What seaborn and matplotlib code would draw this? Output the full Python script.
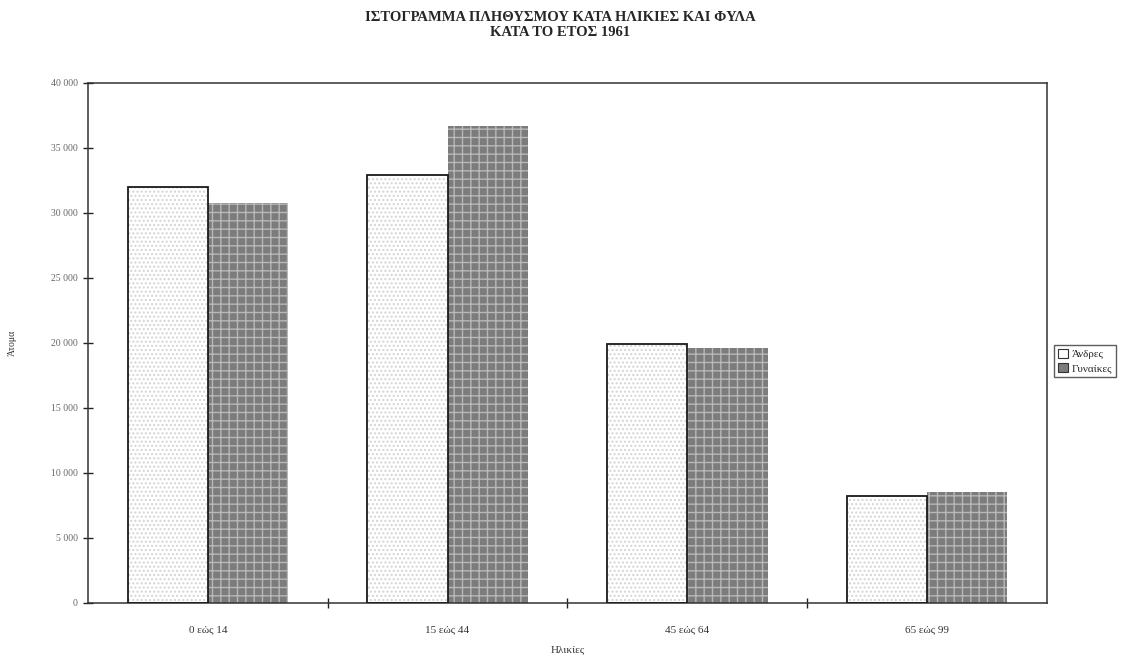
import matplotlib
matplotlib.use("Agg")
import matplotlib.pyplot as plt
import matplotlib.ticker as mticker
from matplotlib.patches import Rectangle
import pandas as pd
import seaborn as sns

# data
age_groups = ["0 εώς 14", "15 εώς 44", "45 εώς 64", "65 εώς 99"]
men = [32000, 32900, 19900, 8200]
women = [30800, 36700, 19600, 8500]
sexes = ["Άνδρες", "Γυναίκες"]

df = pd.DataFrame({
    "age": age_groups * 2,
    "sex": [sexes[0]] * len(age_groups) + [sexes[1]] * len(age_groups),
    "people": men + women,
})

sns.set_theme(style="white")
plt.rcParams["font.family"] = ["Liberation Serif", "DejaVu Serif"]
plt.rcParams["hatch.linewidth"] = 1.0

fig = plt.figure(figsize=(11.32, 6.64), dpi=100)
ax = fig.add_axes([0.0777, 0.092, 0.847, 0.783])

sns.barplot(
    data=df, x="age", y="people", hue="sex", order=age_groups,
    hue_order=sexes, palette=["white", "#7c7c7c"], width=0.67,
    gap=0, errorbar=None, legend=True, ax=ax,
)

n = len(age_groups)
for i, p in enumerate(ax.patches[: 2 * n]):
    if i < n:
        p.set_hatch("....")
        p.set_edgecolor("#d4d4d4")
        p.set_linewidth(0)
        ax.add_patch(Rectangle((p.get_x(), 0), p.get_width(), p.get_height(),
                               fill=False, edgecolor="#1a1a1a", linewidth=1.3, zorder=3))
    else:
        p.set_hatch("++")
        p.set_edgecolor("#b8b8b8")
        p.set_linewidth(0)

ax.set_ylim(0, 40000)
ax.set_xlim(-0.5, n - 0.5)
ax.yaxis.set_major_locator(mticker.MultipleLocator(5000))
ax.yaxis.set_major_formatter(mticker.FuncFormatter(lambda v, _: f"{int(v):,}".replace(",", " ")))

# ticks between groups, labels under group centres
ax.set_xticks([i + 0.5 for i in range(n - 1)])
ax.set_xticklabels([])
ax.set_xticks(range(n), minor=True)
ax.set_xticklabels(age_groups, minor=True, fontsize=8, color="#333333")
ax.tick_params(axis="x", which="major", direction="inout", length=7, width=1, color="#222222", bottom=True)
ax.tick_params(axis="x", which="minor", length=0, pad=16)
ax.tick_params(axis="y", direction="inout", length=7, width=1, color="#222222", left=True,
               labelsize=7, labelcolor="#666666", pad=4)

for s in ax.spines.values():
    s.set_visible(True)
    s.set_color("#333333")
    s.set_linewidth(1.1)

ax.set_xlabel("Ηλικίες", fontsize=8, color="#333333", labelpad=8)
ax.set_ylabel("Άτομα", fontsize=7, color="#333333", labelpad=24)

fig.text(0.495, 0.983, "ΙΣΤΟΓΡΑΜΜΑ ΠΛΗΘΥΣΜΟΥ ΚΑΤΑ ΗΛΙΚΙΕΣ ΚΑΙ ΦΥΛΑ\nΚΑΤΑ ΤΟ ΕΤΟΣ 1961",
         ha="center", va="top", fontsize=10.5, fontweight="bold", linespacing=1.2)

leg = ax.legend(loc="center left", bbox_to_anchor=(1.002, 0.465), frameon=True,
                fontsize=8, handlelength=0.9, handleheight=0.9, handletextpad=0.3,
                borderpad=0.35, labelspacing=0.35, fancybox=False)
leg.get_frame().set_edgecolor("#333333")
leg.get_frame().set_linewidth(1)
for h in leg.legend_handles:
    h.set_edgecolor("#333333")
    h.set_linewidth(0.8)

fig.savefig("out.png", dpi=100)
